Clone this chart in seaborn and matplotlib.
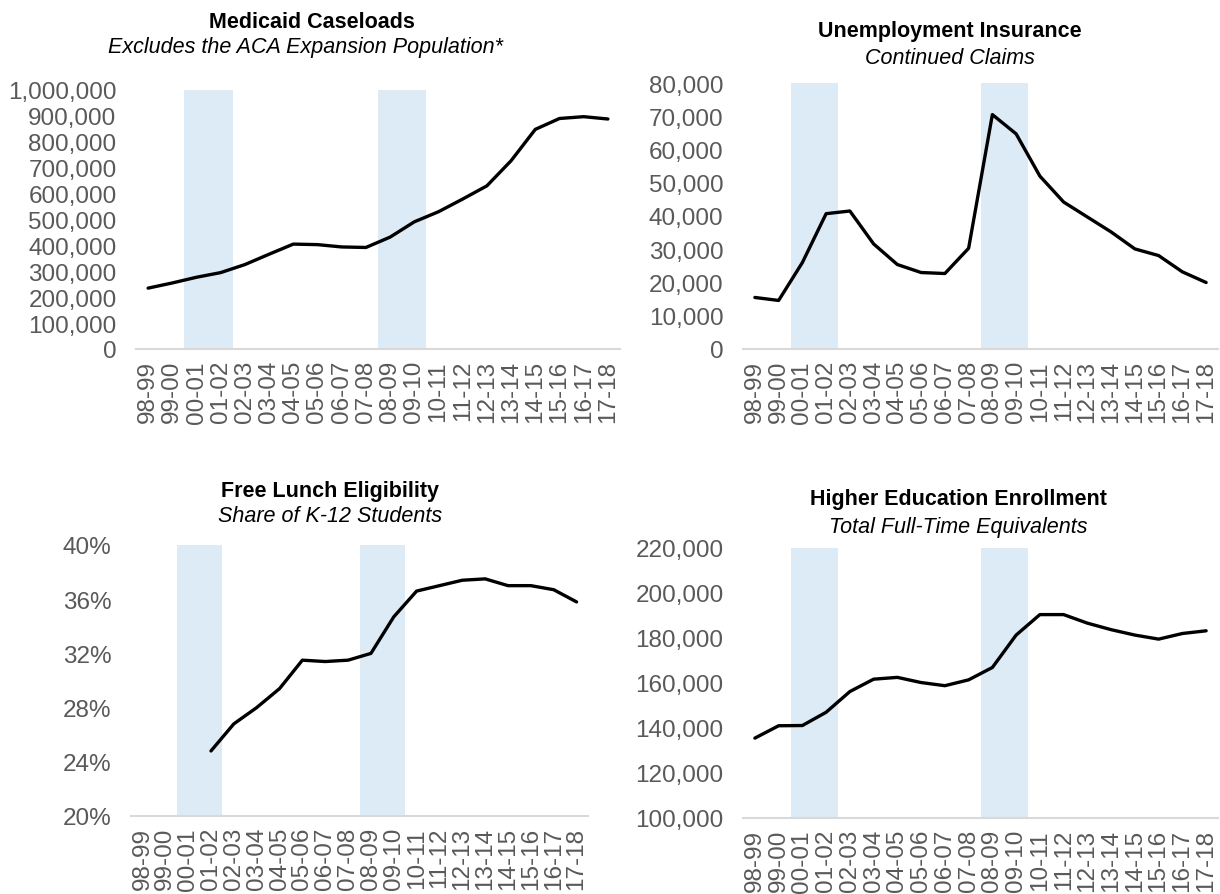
import numpy as np
import pandas as pd
import matplotlib
matplotlib.use("Agg")
import matplotlib.pyplot as plt
import seaborn as sns
from matplotlib.ticker import FuncFormatter, MultipleLocator

# --- data ---
years = ['98-99', '99-00', '00-01', '01-02', '02-03', '03-04', '04-05', '05-06',
         '06-07', '07-08', '08-09', '09-10', '10-11', '11-12', '12-13', '13-14',
         '14-15', '15-16', '16-17', '17-18']
recession_years = ['00-01', '01-02', '08-09', '09-10']

medicaid = [235000, 255000, 277000, 295000, 326000, 366000, 405000, 403000,
            394000, 392000, 432000, 491000, 530000, 579000, 630000, 727000,
            848000, 890000, 897000, 888000]
unemployment = [15500, 14600, 26000, 40700, 41500, 31600, 25400, 23000,
                22700, 30300, 70500, 64700, 52000, 44200, 39700, 35200,
                30100, 28100, 23200, 20000]
free_lunch = [np.nan, np.nan, np.nan, 0.248, 0.268, 0.280, 0.294, 0.315,
              0.314, 0.315, 0.320, 0.347, 0.366, 0.370, 0.374, 0.375,
              0.370, 0.370, 0.367, 0.358]
higher_ed = [135500, 141000, 141100, 147000, 156200, 161700, 162500, 160200,
             158800, 161400, 166900, 181300, 190400, 190400, 186600, 183700,
             181300, 179500, 182000, 183200]

sns.set_style("white")
plt.rcParams['font.family'] = ['Liberation Sans', 'DejaVu Sans']

GREY_TXT = '#595959'
AXIS_CLR = '#D9D9D9'
SHADE = '#DDEBF7'

W, H = 1220, 895
fig = plt.figure(figsize=(W / 100, H / 100), dpi=100)


def px_axes(left, right, top, bottom):
    return fig.add_axes([left / W, (H - bottom) / H, (right - left) / W, (bottom - top) / H])


def draw_panel(ax, values, ylim, step, fmt):
    df = pd.DataFrame({'year': years, 'value': values})
    df['pos'] = np.arange(len(years))
    # recession shading as full-height columns
    rec = df[df['year'].isin(recession_years)]
    ax.bar(rec['pos'], [ylim[1] - ylim[0]] * len(rec), bottom=ylim[0], width=1.0,
           color=SHADE, zorder=0, linewidth=0)
    sns.lineplot(data=df.dropna(), x='pos', y='value', color='black', linewidth=2.4,
                 ax=ax, zorder=3)
    ax.set_xlim(-0.5, len(years) - 0.5)
    ax.set_ylim(*ylim)
    ax.yaxis.set_major_locator(MultipleLocator(step))
    ax.yaxis.set_major_formatter(FuncFormatter(fmt))
    ax.set_xticks(df['pos'])
    ax.set_xticklabels(years, rotation=90)
    ax.set_xlabel('')
    ax.set_ylabel('')
    for s in ['top', 'right', 'left']:
        ax.spines[s].set_visible(False)
    ax.spines['bottom'].set_color(AXIS_CLR)
    ax.spines['bottom'].set_linewidth(1.5)
    ax.tick_params(axis='both', length=0, labelsize=17.5, colors=GREY_TXT)
    ax.tick_params(axis='y', pad=14)
    ax.tick_params(axis='x', pad=8)


comma = lambda v, p: f"{int(v):,}"
pct = lambda v, p: f"{v * 100:.0f}%"

ax1 = px_axes(136, 620, 91, 350)
draw_panel(ax1, medicaid, (0, 1000000), 100000, comma)
ax2 = px_axes(743, 1218, 84, 350)
draw_panel(ax2, unemployment, (0, 80000), 10000, comma)
ax3 = px_axes(131, 588, 546, 817)
draw_panel(ax3, free_lunch, (0.20, 0.40), 0.04, pct)
ax4 = px_axes(743, 1218, 549, 819)
draw_panel(ax4, higher_ed, (100000, 220000), 20000, comma)

titles = [
    (312, 22, 'Medicaid Caseloads', 305, 48, 'Excludes the ACA Expansion Population*'),
    (950, 32, 'Unemployment Insurance', 950, 58, 'Continued Claims'),
    (330, 492, 'Free Lunch Eligibility', 330, 517, 'Share of K-12 Students'),
    (958, 500, 'Higher Education Enrollment', 958, 528, 'Total Full-Time Equivalents'),
]
for tx, ty, t, sx, sy, s in titles:
    fig.text(tx / W, 1 - ty / H, t, ha='center', va='center', fontsize=15.5,
             fontweight='bold', color='black')
    fig.text(sx / W, 1 - sy / H, s, ha='center', va='center', fontsize=15.5,
             fontstyle='italic', color='black')

fig.savefig('out.png', dpi=100)
